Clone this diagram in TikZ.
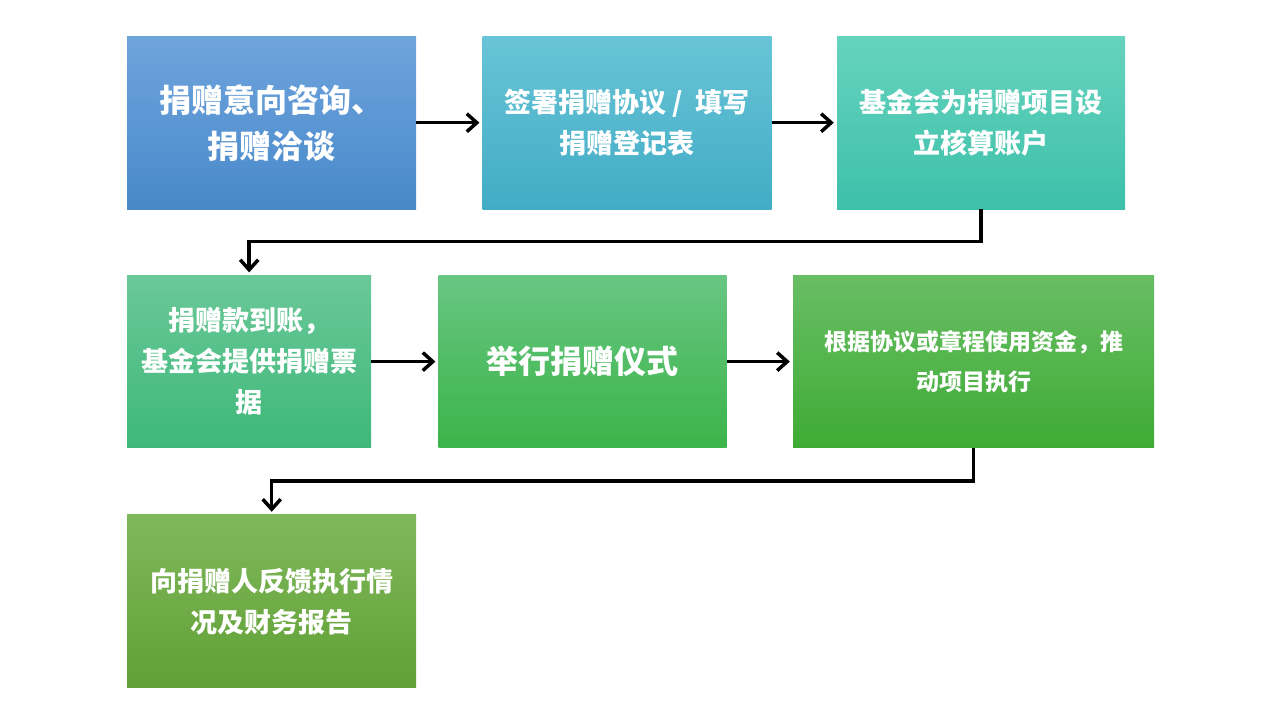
\documentclass[tikz,border=0pt]{standalone}
\usepackage{fontspec}
\newfontfamily\cjk{Noto Sans CJK SC}
\usepackage{tikz}
\usetikzlibrary{arrows.meta,positioning}

\definecolor{askTop}{HTML}{6FA4DD}\definecolor{askBot}{HTML}{4889CA}
\definecolor{signTop}{HTML}{68C4D6}\definecolor{signBot}{HTML}{42ACC6}
\definecolor{acctTop}{HTML}{66D3BE}\definecolor{acctBot}{HTML}{3DC0AA}
\definecolor{fundTop}{HTML}{6AC898}\definecolor{fundBot}{HTML}{3EB87A}
\definecolor{cereTop}{HTML}{68C682}\definecolor{cereBot}{HTML}{3BB449}
\definecolor{execTop}{HTML}{68BE64}\definecolor{execBot}{HTML}{3FAB35}
\definecolor{reptTop}{HTML}{80B85C}\definecolor{reptBot}{HTML}{60A034}

\begin{document}
\begin{tikzpicture}[
    node distance=66pt,
    stage/.style={rectangle, inner sep=0pt, minimum width=289pt, minimum height=173pt, align=center, text=white, font=\cjk\bfseries\fontsize{27}{41}\selectfont},
    arrow/.style={line width=3.5pt, -{Straight Barb[length=10pt,width=18pt]}, shorten >=3pt}
]
\useasboundingbox (0,0) rectangle (1280pt,720pt);

\node (ask) [stage, top color=askTop, bottom color=askBot, font=\cjk\bfseries\fontsize{32}{46}\selectfont, anchor=north west] at (127pt,684pt) {捐赠意向咨询、\\捐赠洽谈};
\node (sign) [stage, top color=signTop, bottom color=signBot, right=of ask] {签署捐赠协议 / \ 填写\\捐赠登记表};
\node (account) [stage, top color=acctTop, bottom color=acctBot, minimum width=288pt, right=65pt of sign] {基金会为捐赠项目设\\立核算账户};

\node (funds) [stage, top color=fundTop, bottom color=fundBot, minimum width=244pt, minimum height=172pt, below=of ask.south west, anchor=north west] {捐赠款到账，\\基金会提供捐赠票\\据};
\node (ceremony) [stage, top color=cereTop, bottom color=cereBot, minimum width=288pt, minimum height=172pt, font=\cjk\bfseries\fontsize{32}{46}\selectfont, right=67pt of funds] {举行捐赠仪式};
\node (execute) [stage, top color=execTop, bottom color=execBot, minimum width=361pt, minimum height=172pt, font=\cjk\bfseries\fontsize{23}{40}\selectfont, right=of ceremony] {根据协议或章程使用资金，推\\动项目执行};

\node (report) [stage, top color=reptTop, bottom color=reptBot, below=67pt of funds.south west, anchor=north west] {向捐赠人反馈执行情\\况及财务报告};

\draw [arrow] (ask) -- (sign);
\draw [arrow] (sign) -- (account);
\draw [arrow] (account.south) -- ++(0,-32pt) -| (funds.north);
\draw [arrow] (funds) -- (ceremony);
\draw [arrow] (ceremony) -- (execute);
\draw [arrow] (execute.south) -- ++(0,-33pt) -| (report.north);

\end{tikzpicture}
\end{document}
